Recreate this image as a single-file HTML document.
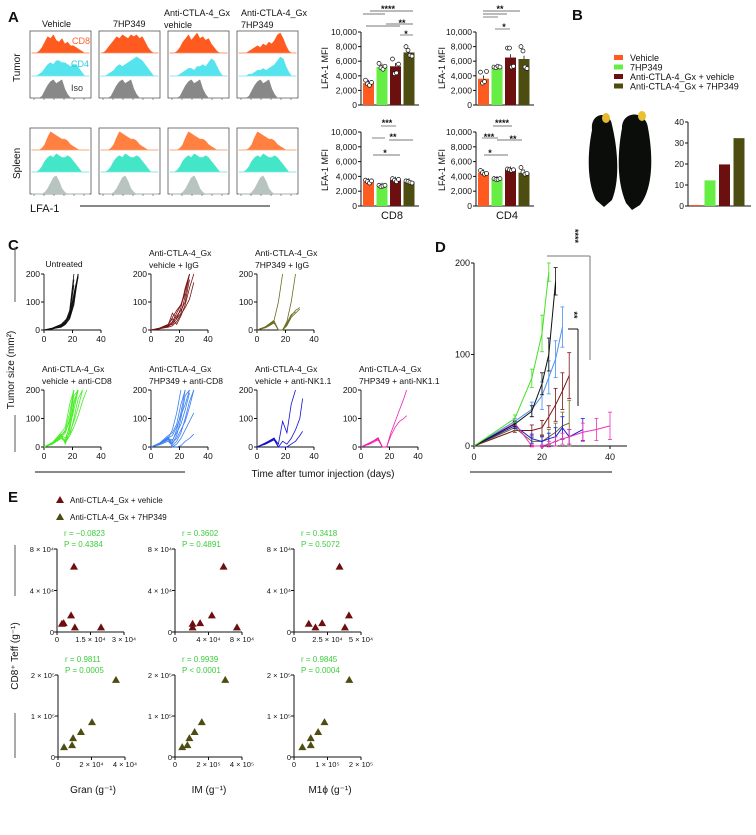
<!DOCTYPE html>
<html><head><meta charset="utf-8"><style>
html,body{margin:0;padding:0;background:#fff}
svg{display:block;font-family:"Liberation Sans",sans-serif}
</style></head><body>
<svg id="fig" width="756" height="835" viewBox="0 0 756 835" xmlns="http://www.w3.org/2000/svg"></svg>
<script>
// ---------- DATA ----------
const histGroups=["Vehicle","7HP349","Anti-CTLA-4_Gx vehicle","Anti-CTLA-4_Gx 7HP349"];
const barGroups=["Vehicle","7HP349","Anti-CTLA-4_Gx + vehicle","Anti-CTLA-4_Gx + 7HP349"];
const cd8Tumor=[3000,5200,5300,7200];
const cd4Tumor=[3600,5200,6500,6300];
const cd8Spleen=[3300,2700,3500,3300];
const cd4Spleen=[4500,3600,4900,4500];
const cd8TumorPts=[[3400,2900,2700,3100],[5700,5100,4900,5300],[6300,4300,4400,5600],[8000,7500,6800,6700]];
const cd4TumorPts=[[4500,3000,3200,4600],[5200,5100,5300,5200],[7800,7800,5200,5300],[8000,7400,5200,5000]];
const cd8SpleenPts=[[3500,3300,3100,3400],[2800,2600,2700,2800],[3700,3500,3300,3600],[3400,3300,3200,3100]];
const cd4SpleenPts=[[4800,4500,4300,4400],[3700,3600,3600,3700],[5000,4900,4800,4900],[5200,4600,4300,4400]];
const mfiTicks=[0,2000,4000,6000,8000,10000];
const mfiTickLabels=["0","2,000","4,000","6,000","8,000","10,000"];
const bValues=[0.5,12.2,19.8,32.3];
const bTicks=[0,10,20,30,40];
const cDays=[0,6,12,15,18,21,24,27,30,32];
const cUntreated=[[0,5,15,25,45,100,200],[0,6,18,30,55,130,200],[0,4,12,22,60,160],[0,5,14,28,70,200],[0,7,20,35,50,110,190],[0,5,10,20,40,90,200],[0,6,16,26,48,120,200],[0,4,13,30,65,180]];
const cVehIgG=[[0,5,15,20,40,60,120,200],[0,6,18,60,40,80,150,200],[0,4,12,25,50,70,100,180],[0,5,14,30,60,90,130],[0,7,20,40,20,50,90,150,200],[0,5,10,15,30,55,80,110,170],[0,6,16,45,70,90,140,200]];
const c7hpIgG=[[0,12,35,100,200],[0,10,30,0,0,30,100,200],[0,10,28,0,0,20,50,70,80],[0,8,25,0,0,15,45,60,75],[0,11,32,0,0,25,55,65]];
const cVehCD8=[[0,15,40,60,120,200],[0,12,35,50,100,180,200],[0,14,45,10,60,150,200],[0,10,30,20,80,160,200],[0,16,50,70,150,200],[0,13,38,15,40,100,170,200],[0,12,30,25,50,90,140,200],[0,15,42,30,70,130,200],[0,11,36,20,40,70,110,160,200],[0,14,40,55,90,200]];
const c7hpCD8=[[0,12,30,60,120,200],[0,10,25,10,40,100,180,200],[0,14,40,50,80,150,200],[0,8,20,5,20,50,100,160,200],[0,12,35,0,10,30,60,90,120],[0,10,28,20,60,120,200],[0,11,30,0,0,5,20,30,45],[0,13,32,40,70,110,150,200],[0,9,26,15,30,60,90,140,200],[0,12,30,25,50,80,130,190]];
const cVehNK=[[0,15,30,10,90,50,150,200],[0,12,28,0,20,10,30,60,100,170],[0,14,32,0,0,0,10,20,40,55],[0,10,25,0],[0,13,30,0]];
const c7hpNK=[[0,15,30,0],[0,12,33,0],[0,14,28,0,0,40,70,90,100,110],[0,10,25,0,0,50,90,130,170,200]];
const dDays=[0,12,17,20,22,24,26,28,32,36,40];
const dUntreated=[0,24,38,68,100,180];
const dUntreatedErr=[0,3,6,12,18,15];
const dVehIgG=[0,17,17,20,32,45,60,77];
const dVehIgGErr=[0,2,6,8,12,18,20,25];
const d7hpIgG=[0,20,5,5,10,15,22,25];
const d7hpIgGErr=[0,3,4,6,8,10,15,25];
const dVehCD8=[0,30,74,123,190];
const dVehCD8Err=[0,4,10,20,10];
const d7hpCD8=[0,27,40,55,75,95,130];
const d7hpCD8Err=[0,3,8,15,18,20,22];
const dVehNK=[0,22,8,5,8,10,20,10,18];
const dVehNKErr=[0,3,5,5,6,10,12,8,12];
const d7hpNK=[0,25,0,0,2,5,8,10,15,18,22];
const d7hpNKErr=[0,3,1,1,3,5,6,8,10,12,15];
const eGranVeh=[0.22,0.3,0.63,0.76,0.8,1.97];
const eGranVehY=[0.8,0.85,1.6,6.3,0.45,0.45];
const eIMVeh=[2.1,2.1,3.0,4.4,5.8,7.4];
const eIMVehY=[0.8,0.45,0.85,1.6,6.3,0.45];
const eM1Veh=[1.1,1.6,2.1,3.4,3.8,4.1];
const eM1VehY=[0.8,0.45,0.85,6.3,0.45,1.6];
const eGran7=[0.36,0.84,0.9,1.37,2.03,3.46];
const eIM7=[0.43,0.74,0.86,1.17,1.6,3.0];
const eM17=[0.25,0.5,0.5,0.72,0.91,1.65];
const e7Y=[0.24,0.29,0.46,0.61,0.85,1.88];
const histCD8=[[0,0,1,3,6,9,8,10,7,6,8,5,6,4,4,3,2,1,0,0],[0,1,3,5,7,9,8,10,9,8,10,9,10,8,9,6,3,1,0,0],[0,0,1,3,6,8,10,7,9,11,8,9,7,8,5,3,1,0,0,0],[0,0,0,1,2,3,4,3,5,4,6,5,7,10,11,8,4,1,0,0]];
const histCD4=[[0,0,1,2,4,6,7,6,8,8,7,7,6,5,6,6,4,2,0,0],[0,0,1,2,3,5,6,5,6,7,8,9,10,9,8,6,4,2,0,0],[0,0,0,1,2,3,4,4,3,5,5,6,5,7,9,8,5,2,0,0],[0,0,0,1,1,2,3,3,4,3,4,5,6,8,10,9,5,2,0,0]];
const histIso=[0,0,0,1,4,7,9,10,8,9,10,5,2,0,0,0,0,0,0,0];
const histSpCD8=[0,0,0,1,3,7,10,9,8,7,6,6,5,3,2,1,0,0,0,0];
const histSpCD4=[0,0,1,3,6,8,9,8,10,9,8,8,9,8,6,4,2,0,0,0];
const histSpIso=[0,0,0,0,1,3,6,9,10,7,3,1,0,0,0,0,0,0,0,0];

// ---------- HELPERS ----------
const NS="http://www.w3.org/2000/svg";
const svg=document.getElementById('fig');
function mk(tag,attrs,name,parent){
  const el=document.createElementNS(NS,tag);
  for(const k in attrs) el.setAttribute(k,attrs[k]);
  
  
  (parent||svg).appendChild(el);
  return el;
}
function T(x,y,s,name,o){
  o=o||{};
  const el=mk('text',{x:x,y:y,'font-size':o.fs||9,'text-anchor':o.a||'start',fill:o.fill||'#111','font-weight':o.fw||'normal'},name);
  if(o.rot) el.setAttribute('transform','rotate('+o.rot+' '+x+' '+y+')');
  if(o.it) el.setAttribute('font-style','italic');
  el.textContent=s;
  return el;
}
function L(x1,y1,x2,y2,name,c,w){return mk('line',{x1:x1,y1:y1,x2:x2,y2:y2,stroke:c||'#111','stroke-width':w||1},name);}
const COL={veh:'#ff5a1f',hp:'#66ee44',cv:'#6b0f0f',ch:'#4d4d12'};
const barCols=[COL.veh,COL.hp,COL.cv,COL.ch];

// ---------- PANEL A: histograms ----------
T(8,22,'A','panel-a-label',{fs:15,fw:'bold'});
const hx=[30,99,168,237];
const hLabelX=[52,122,164,241];
T(42,27,'Vehicle','hist-title-vehicle',{fs:9});
T(113,27,'7HP349','hist-title-7hp349',{fs:9});
T(164,16,'Anti-CTLA-4_Gx','hist-title-3a',{fs:9});T(164,28,'vehicle','hist-title-3b',{fs:9});
T(241,16,'Anti-CTLA-4_Gx','hist-title-4a',{fs:9});T(241,28,'7HP349','hist-title-4b',{fs:9});
T(20,82,'Tumor','row-label-tumor',{fs:10,rot:-90});
T(20,179,'Spleen','row-label-spleen',{fs:10,rot:-90});
function hist(x0,yb,w,h,arr,col,name){
  let d='M'+x0+','+yb;
  arr.forEach((v,i)=>{d+=' L'+(x0+ (i+0.5)*w/arr.length).toFixed(1)+','+(yb-v/11*h).toFixed(1);});
  d+=' L'+(x0+w)+','+yb+' Z';
  mk('path',{d:d,fill:col,stroke:col,'stroke-width':0.5},name);
}
function histBox(i,y0,y1,dA,dB,sets,cols,tissue){
  const x=hx[i];
  mk('rect',{x:x,y:y0,width:61,height:y1-y0,fill:'none',stroke:'#555','stroke-width':0.8},tissue+'-hist-box-'+i);
  const rows=[[y0,dA],[dA,dB],[dB,y1]];
  rows.forEach((r,k)=>{
    hist(x+2,r[1],57,(r[1]-r[0])-2,sets[k],cols[k],tissue+'-hist-'+i+'-'+k);
    if(k<2) L(x,r[1],x+61,r[1],'hist-divider',k==0?'#f5b090':'#a0e8ee',0.6);
  });
  for(let t=0;t<6;t++) L(x+4+t*10,y1,x+4+t*10,y1+2,'hist-tick','#555',0.6);
}
for(let i=0;i<4;i++){
  histBox(i,31,98,53,76,[histCD8[i],histCD4[i],histIso],['#ff5a1f','#55e3ee','#888'],'tumor');
  histBox(i,128,194,150,172,[histSpCD8,histSpCD4,histSpIso],['#ff8040','#44e6c8','#b8c4c0'],'spleen');
}
T(72,44,'CD8','hist-label-cd8',{fs:9,fill:'#ff6030'});
T(71,67,'CD4','hist-label-cd4',{fs:9,fill:'#33c8e0'});
T(71,91,'Iso','hist-label-iso',{fs:9,fill:'#333'});
T(30,212,'LFA-1','x-label-lfa1',{fs:11});
L(80,206,270,206,'lfa1-line');

// ---------- PANEL A: bar charts ----------
function barChart(ax,yb,yt,vals,pts,name){
  const ys=v=>yb-(v/10000)*(yb-yt);
  L(ax,yt,ax,yb,name+'-y-axis');
  L(ax,yb,ax+58,yb,name+'-x-axis');
  mfiTicks.forEach((t,i)=>{L(ax-3,ys(t),ax,ys(t),name+'-y-tick');T(ax-4,ys(t)+3,mfiTickLabels[i],name+'-y-tick-label',{fs:8.5,a:'end'});});
  vals.forEach((v,i)=>{
    const bx=ax+2+i*13.5;
    mk('rect',{x:bx,y:ys(v),width:11,height:yb-ys(v),fill:barCols[i]},name+'-bar-'+i);
    L(bx+5.5,ys(v)-300*(yb-yt)/10000*1.5,bx+5.5,ys(v),name+'-err-'+i,'#111',0.8);
    pts[i].forEach((p,k)=>mk('circle',{cx:bx+2.5+k*2,cy:ys(p),r:2,fill:'#fff',stroke:'#111','stroke-width':0.7},name+'-dot'));
  });
}
barChart(361,105,32,cd8Tumor,cd8TumorPts,'cd8-tumor');
barChart(476,105,32,cd4Tumor,cd4TumorPts,'cd4-tumor');
barChart(361,206,132,cd8Spleen,cd8SpleenPts,'cd8-spleen');
barChart(476,206,132,cd4Spleen,cd4SpleenPts,'cd4-spleen');
T(328,68,'LFA-1 MFI','y-title-cd8-tumor',{fs:9,a:'middle',rot:-90});
T(445,68,'LFA-1 MFI','y-title-cd4-tumor',{fs:9,a:'middle',rot:-90});
T(328,170,'LFA-1 MFI','y-title-cd8-spleen',{fs:9,a:'middle',rot:-90});
T(445,170,'LFA-1 MFI','y-title-cd4-spleen',{fs:9,a:'middle',rot:-90});
T(392,219,'CD8','x-title-cd8',{fs:11,a:'middle'});
T(507,219,'CD4','x-title-cd4',{fs:11,a:'middle'});
// significance
const sig=[[388,8,'****'],[402,22,'**'],[406,33,'*'],[500,8,'**'],[504,26,'*'],[387,122,'***'],[393,136,'**'],[385,152,'*'],[502,122,'****'],[489,136,'***'],[513,138,'**'],[490,152,'*']];
sig.forEach(s=>T(s[0],s[1]+4,s[2],'sig-stars',{fs:9,a:'middle',fw:'bold'}));
[[370,413,11],[363,385,14],[386,413,24],[366,400,26],[400,413,35],[483,520,11],[483,507,14],[483,498,17],[495,510,29],
 [381,396,126],[372,385,138],[389,413,140],[373,400,155],[493,512,126],[482,498,138],[497,522,140],[484,508,155]].forEach(l=>L(l[0],l[2],l[1],l[2],'sig-line','#777',0.9));

// ---------- PANEL B ----------
T(572,20,'B','panel-b-label',{fs:15,fw:'bold'});
barGroups.forEach((g,i)=>{
  mk('rect',{x:614,y:55+i*9.5,width:9,height:5,fill:barCols[i]},'legend-swatch-'+i);
  T(630,61+i*9.5,g,'legend-entry-'+i,{fs:9});
});
// mice
mk('path',{d:'M592,130 C590,112 610,110 612,125 C618,150 620,180 612,200 L604,207 L596,200 C586,180 588,150 592,130 Z',fill:'#0a0d0a'},'mouse-left');
mk('path',{d:'M622,128 C622,110 646,110 648,128 C654,160 652,190 640,205 L632,210 L626,203 C616,180 618,150 622,128 Z',fill:'#0a0d0a'},'mouse-right');
mk('ellipse',{cx:606,cy:118,rx:4,ry:5,fill:'#e8b830'},'mouse-left-ear');
mk('ellipse',{cx:642,cy:116,rx:4,ry:5,fill:'#e8c030'},'mouse-right-ear');
(function(){
  const ax=688,yb=206,yt=122;const ys=v=>yb-v/40*(yb-yt);
  L(ax,yt,ax,yb,'b-y-axis');L(ax,yb,ax+63,yb,'b-x-axis');
  bTicks.forEach(t=>{L(ax-3,ys(t),ax,ys(t),'b-y-tick');T(ax-4,ys(t)+3,String(t),'b-y-tick-label',{fs:8.5,a:'end'});});
  bValues.forEach((v,i)=>mk('rect',{x:ax+2+i*14.5,y:ys(v),width:11,height:yb-ys(v),fill:barCols[i]},'b-bar-'+i));
})();

// ---------- PANEL C ----------
T(8,250,'C','panel-c-label',{fs:15,fw:'bold'});
function spag(ox,yt,yb,lines,col,t1,t2,name){
  const xs=d=>ox+d/40*57, ys=v=>yb-v/200*(yb-yt);
  L(ox,yt,ox,yb,name+'-y-axis','#111',0.9);L(ox,yb,ox+57,yb,name+'-x-axis','#111',0.9);
  [0,100,200].forEach(t=>{L(ox-3,ys(t),ox,ys(t),name+'-y-tick');T(ox-4,ys(t)+3,String(t),name+'-y-tick-label',{fs:8.5,a:'end'});});
  [0,20,40].forEach(t=>{L(xs(t),yb,xs(t),yb+3,name+'-x-tick');T(xs(t),yb+12,String(t),name+'-x-tick-label',{fs:8.5,a:'middle'});});
  lines.forEach((ln,k)=>{
    const p=ln.map((v,i)=>xs(cDays[i]).toFixed(1)+','+ys(v).toFixed(1)).join(' ');
    mk('polyline',{points:p,fill:'none',stroke:col,'stroke-width':0.8},name+'-line-'+k);
  });
  if(t2){T(ox-2,yt-18,t1,name+'-title-1',{fs:8.5});T(ox-2,yt-6,t2,name+'-title-2',{fs:8.5});}
  else T(ox+20,yt-7,t1,name+'-title',{fs:8.5,a:'middle'});
}
spag(44,274,330,cUntreated,'#111','Untreated',null,'c-untreated');
spag(151,274,330,cVehIgG,'#7a1414','Anti-CTLA-4_Gx','vehicle + IgG','c-veh-igg');
spag(257,274,330,c7hpIgG,'#6b6b20','Anti-CTLA-4_Gx','7HP349 + IgG','c-7hp-igg');
spag(44,390,447,cVehCD8,'#44ee22','Anti-CTLA-4_Gx','vehicle + anti-CD8','c-veh-cd8');
spag(151,390,447,c7hpCD8,'#3a80f0','Anti-CTLA-4_Gx','7HP349 + anti-CD8','c-7hp-cd8');
spag(257,390,447,cVehNK,'#1010d0','Anti-CTLA-4_Gx','vehicle + anti-NK1.1','c-veh-nk');
spag(361,390,447,c7hpNK,'#f020b0','Anti-CTLA-4_Gx','7HP349 + anti-NK1.1','c-7hp-nk');
T(14,370,'Tumor size (mm²)','c-y-title',{fs:10,a:'middle',rot:-90});
L(15,247,15,302,'c-y-bracket','#555');L(15,415,15,452,'c-y-bracket','#555');
T(323,477,'Time after tumor injection (days)','c-x-title',{fs:10,a:'middle'});
L(35,472,185,472,'c-x-bracket');

// ---------- PANEL D ----------
T(435,252,'D','panel-d-label',{fs:15,fw:'bold'});
(function(){
  const ox=474,yb=446,yt=263;const xs=d=>ox+d*3.4, ys=v=>yb-v/200*(yb-yt);
  L(ox,yt,ox,yb,'d-y-axis');L(ox,yb,627,yb,'d-x-axis');
  [0,100,200].forEach(t=>{L(ox-3,ys(t),ox,ys(t),'d-y-tick');T(ox-4,ys(t)+3,String(t),'d-y-tick-label',{fs:9,a:'end'});});
  [0,20,40].forEach(t=>{L(xs(t),yb,xs(t),yb+3,'d-x-tick');T(xs(t),yb+14,String(t),'d-x-tick-label',{fs:9,a:'middle'});});
  const ser=[[dVehIgG,dVehIgGErr,'#7a1414','veh-igg'],[d7hpIgG,d7hpIgGErr,'#6b6b20','7hp-igg'],[dVehNK,dVehNKErr,'#1a1ae0','veh-nk'],[d7hpNK,d7hpNKErr,'#f030b8','7hp-nk'],[d7hpCD8,d7hpCD8Err,'#4a90f0','7hp-cd8'],[dUntreated,dUntreatedErr,'#111','untreated'],[dVehCD8,dVehCD8Err,'#44e022','veh-cd8']];
  ser.forEach(s=>{
    const [v,e,c,n]=s;
    mk('polyline',{points:v.map((y,i)=>xs(dDays[i])+','+ys(y)).join(' '),fill:'none',stroke:c,'stroke-width':1},'d-line-'+n);
    v.forEach((y,i)=>{if(!e[i])return;const x=xs(dDays[i]);
      L(x,ys(y-e[i]),x,ys(y+e[i]),'d-err-'+n,c,0.8);L(x-2,ys(y+e[i]),x+2,ys(y+e[i]),'d-err-cap',c,0.8);L(x-2,ys(y-e[i]),x+2,ys(y-e[i]),'d-err-cap',c,0.8);});
  });
  L(547,256,590,256,'d-sig-bracket','#777');L(590,256,590,360,'d-sig-bracket','#777');
  T(572,236,'****','d-sig-stars-1',{fs:9,a:'middle',fw:'bold',rot:90});
  L(568,329,578,329,'d-sig-bracket2');L(578,329,578,406,'d-sig-bracket2');
  T(571,315,'**','d-sig-stars-2',{fs:9,a:'middle',fw:'bold',rot:90});
  L(470,472,612,472,'d-x-bracket');
})();

// ---------- PANEL E ----------
T(8,502,'E','panel-e-label',{fs:15,fw:'bold'});
function tri(x,y,c,n){mk('path',{d:'M'+x+','+(y-4)+' L'+(x+4)+','+(y+3)+' L'+(x-4)+','+(y+3)+' Z',fill:c},n);}
tri(60,500,'#6b0f0f','legend-tri-veh');T(70,503,'Anti-CTLA-4_Gx + vehicle','e-legend-veh',{fs:8});
tri(60,517,'#4d4d12','legend-tri-7hp');T(70,520,'Anti-CTLA-4_Gx + 7HP349','e-legend-7hp',{fs:8});
function scat(ox,yb,yt,xmax,ymax,xTicks,yTicks,xs_,ys_,col,r,p,name){
  const W=67;const sx=v=>ox+v/xmax*W, sy=v=>yb-v/ymax*(yb-yt);
  L(ox,yt,ox,yb,name+'-y-axis');L(ox,yb,ox+W,yb,name+'-x-axis');
  yTicks.forEach(t=>{L(ox-3,sy(t[0]),ox,sy(t[0]),name+'-y-tick');T(ox-3,sy(t[0])+3,t[1],name+'-y-tick-label',{fs:7.5,a:'end'});});
  xTicks.forEach(t=>{L(sx(t[0]),yb,sx(t[0]),yb+3,name+'-x-tick');T(sx(t[0]),yb+10,t[1],name+'-x-tick-label',{fs:7.5,a:'middle'});});
  xs_.forEach((v,i)=>tri(sx(v),sy(ys_[i]),col,name+'-point'));
  T(ox+7,yt-13,r,name+'-r',{fs:8,fill:'#3ccc3c',it:false});
  T(ox+7,yt-2,p,name+'-p',{fs:8,fill:'#3ccc3c'});
}
const y1T=[[0,'0'],[4,'4 × 10⁴'],[8,'8 × 10⁴']], y2T=[[0,'0'],[1,'1 × 10⁵'],[2,'2 × 10⁵']];
scat(57,632,549,3,8,[[0,'0'],[1.5,'1.5 × 10⁴'],[3,'3 × 10⁴']],y1T,eGranVeh,eGranVehY,'#6b0f0f','r = −0.0823','P = 0.4384','e-gran-veh');
scat(175,632,549,8,8,[[0,'0'],[4,'4 × 10⁴'],[8,'8 × 10⁴']],y1T,eIMVeh,eIMVehY,'#6b0f0f','r = 0.3602','P = 0.4891','e-im-veh');
scat(294,632,549,5,8,[[0,'0'],[2.5,'2.5 × 10⁴'],[5,'5 × 10⁴']],y1T,eM1Veh,eM1VehY,'#6b0f0f','r = 0.3418','P = 0.5072','e-m1-veh');
scat(58,757,675,4,2,[[0,'0'],[2,'2 × 10⁴'],[4,'4 × 10⁴']],y2T,eGran7,e7Y,'#4d4d12','r = 0.9811','P = 0.0005','e-gran-7hp');
scat(175,757,675,4,2,[[0,'0'],[2,'2 × 10⁵'],[4,'4 × 10⁵']],y2T,eIM7,e7Y,'#4d4d12','r = 0.9939','P < 0.0001','e-im-7hp');
scat(294,757,675,2,2,[[0,'0'],[1,'1 × 10⁵'],[2,'2 × 10⁵']],y2T,eM17,e7Y,'#4d4d12','r = 0.9845','P = 0.0004','e-m1-7hp');
T(18,656,'CD8⁺ Teff (g⁻¹)','e-y-title',{fs:10,a:'middle',rot:-90});
L(15,545,15,596,'e-y-bracket','#555');L(15,713,15,758,'e-y-bracket','#555');
T(93,793,'Gran (g⁻¹)','e-x-title-gran',{fs:10,a:'middle'});
T(209,793,'IM (g⁻¹)','e-x-title-im',{fs:10,a:'middle'});
T(330,793,'M1ϕ (g⁻¹)','e-x-title-m1',{fs:10,a:'middle'});
</script>
</body></html>
